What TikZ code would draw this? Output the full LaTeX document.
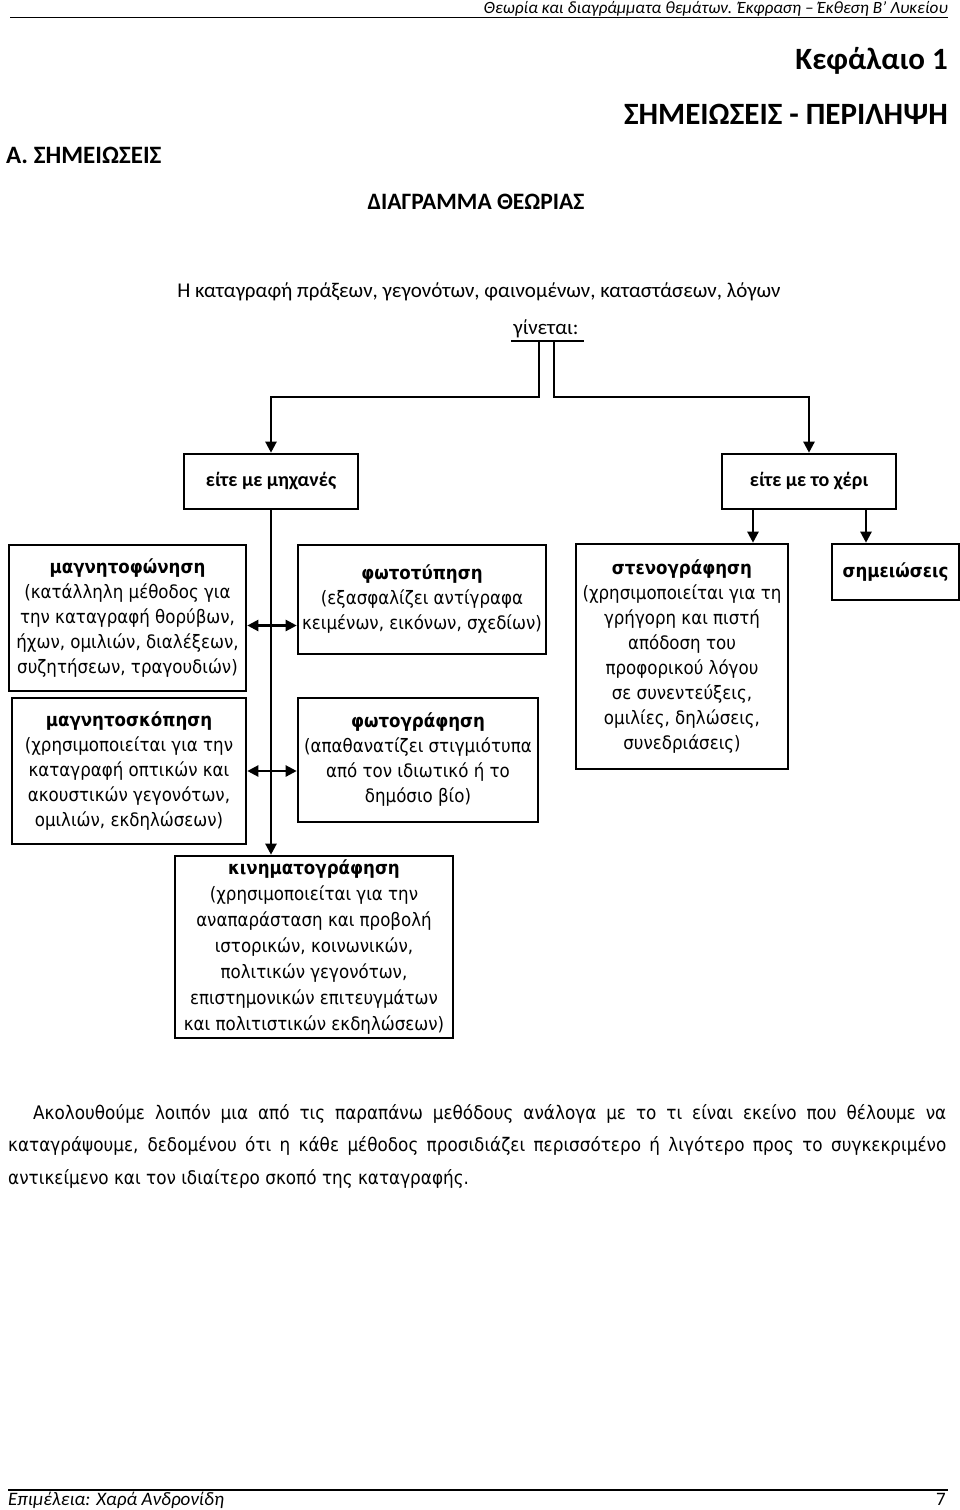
\documentclass[tikz,border=0pt]{standalone}
\usepackage{fontspec}
\setmainfont{Carlito}
\newfontfamily\boxf[FakeStretch=0.9]{DejaVu Sans}
\usetikzlibrary{arrows.meta}
\tikzset{
  bx/.style={draw, line width=2.6pt, align=center, inner sep=0pt, anchor=center,
    font=\boxf\fontsize{18.5}{25}\selectfont},
  topbx/.style={draw, line width=2.6pt, align=center, inner sep=0pt, anchor=center,
    minimum width=174pt, minimum height=55pt, font=\fontsize{20}{22}\selectfont\bfseries},
  ln/.style={line width=2.3pt},
  arr/.style={line width=2.3pt, -{Triangle[length=11pt,width=11pt]}},
  darr/.style={line width=2.3pt, {Triangle[length=11pt,width=11pt]}-{Triangle[length=11pt,width=11pt]}},
  ttl/.style={inner sep=0pt},
}
\begin{document}
\begin{tikzpicture}[x=1pt,y=-1pt]
\useasboundingbox[fill=white] (0,0) rectangle (960,1510);
% header
\node[ttl, anchor=base east, font=\fontsize{17.2}{20}\selectfont\itshape] (hdr) at (948,13) {Θεωρία και διαγράμματα θεμάτων. Έκφραση – Έκθεση Β’ Λυκείου};
\coordinate (hl1) at (10,17.5);
\coordinate (hl2) at (948,17.5);
\draw[line width=1.5pt] (hl1) -- (hl2);
\node[ttl, anchor=base east, font=\fontsize{31}{34}\selectfont\bfseries] (kef) at (948,69) {Κεφάλαιο 1};
\node[ttl, anchor=base east, font=\fontsize{31}{34}\selectfont\bfseries] (sum) at (948,124) {ΣΗΜΕΙΩΣΕΙΣ - ΠΕΡΙΛΗΨΗ};
\node[ttl, anchor=base west, font=\fontsize{25}{28}\selectfont\bfseries] (asec) at (6,163) {Α. ΣΗΜΕΙΩΣΕΙΣ};
\node[ttl, anchor=base, font=\fontsize{23.5}{26}\selectfont\bfseries] (diag) at (476,209) {ΔΙΑΓΡΑΜΜΑ ΘΕΩΡΙΑΣ};
\node[ttl, anchor=base, font=\fontsize{21}{24}\selectfont] (intro) at (479,297) {Η καταγραφή πράξεων, γεγονότων, φαινομένων, καταστάσεων, λόγων};
\node[ttl, anchor=base, font=\fontsize{21}{24}\selectfont] (gin) at (546,334) {γίνεται:};
% bar
\coordinate (barL) at (511,341);
\coordinate (barR) at (584,341);
\coordinate (legL) at (539,341);
\coordinate (legR) at (554,341);
\coordinate (jL) at (539,397);
\coordinate (jR) at (554,397);
\draw[ln] (barL) -- (barR);
% top boxes
\node[topbx] (mach) at (271,481.5) {είτε με μηχανές};
\node[topbx] (hand) at (809,481.5) {είτε με το χέρι};
\draw[arr] (legL) -- (jL) -| (mach.north);
\draw[arr] (legR) -- (jR) -| (hand.north);
% method boxes
\node[bx, minimum width=237pt, minimum height=146pt] (mag1) at (127.5,618) {\textbf{μαγνητοφώνηση}\\(κατάλληλη μέθοδος για\\την καταγραφή θορύβων,\\ήχων, ομιλιών, διαλέξεων,\\συζητήσεων, τραγουδιών)};
\node[bx, minimum width=234pt, minimum height=146pt] (mag2) at (129,771) {\textbf{μαγνητοσκόπηση}\\(χρησιμοποιείται για την\\καταγραφή οπτικών και\\ακουστικών γεγονότων,\\ομιλιών, εκδηλώσεων)};
\node[bx, minimum width=248pt, minimum height=109pt] (fot1) at (422,599.5) {\textbf{φωτοτύπηση}\\(εξασφαλίζει αντίγραφα\\κειμένων, εικόνων, σχεδίων)};
\node[bx, minimum width=240pt, minimum height=124pt] (fot2) at (418,760) {\textbf{φωτογράφηση}\\(απαθανατίζει στιγμιότυπα\\από τον ιδιωτικό ή το\\δημόσιο βίο)};
\node[bx, minimum width=212pt, minimum height=225pt] (steno) at (682,656.5) {\textbf{στενογράφηση}\\(χρησιμοποιείται για τη\\γρήγορη και πιστή\\απόδοση του\\προφορικού λόγου\\σε συνεντεύξεις,\\ομιλίες, δηλώσεις,\\συνεδριάσεις)};
\node[bx, minimum width=127pt, minimum height=56pt] (notes) at (895.5,572) {\textbf{σημειώσεις}};
\node[bx, minimum width=278pt, minimum height=182pt, font=\boxf\fontsize{18.5}{26}\selectfont] (kin) at (314,947) {\textbf{κινηματογράφηση}\\(χρησιμοποιείται για την\\αναπαράσταση και προβολή\\ιστορικών, κοινωνικών,\\πολιτικών γεγονότων,\\επιστημονικών επιτευγμάτων\\και πολιτιστικών εκδηλώσεων)};
% connectors
\draw[arr] (mach.south) -- (mach.south |- kin.north);
\coordinate (hs1) at (753,509);
\coordinate (hs2) at (866,509);
\draw[arr] (hs1) -- (hs1 |- steno.north);
\draw[arr] (hs2) -- (hs2 |- notes.north);
\draw[darr] ([yshift=-7.5pt]mag1.east) -- ([yshift=-7.5pt]mag1.east -| fot1.west);
\draw[darr] (mag2.east) -- (mag2.east -| fot2.west);
% paragraph
\node[anchor=north west, inner sep=0pt, align=left, font=\boxf\fontsize{18.7}{32.5}\selectfont] (para) at (8,1104) {\hbox to 938pt{\hskip25pt Ακολουθούμε λοιπόν μια από τις παραπάνω μεθόδους ανάλογα με το τι είναι εκείνο που θέλουμε να}\\\hbox to 938pt{καταγράψουμε, δεδομένου ότι η κάθε μέθοδος προσιδιάζει περισσότερο ή λιγότερο προς το συγκεκριμένο}\\αντικείμενο και τον ιδιαίτερο σκοπό της καταγραφής.};
% footer
\coordinate (fl1) at (8,1490);
\coordinate (fl2) at (948,1490);
\draw[line width=2pt] (fl1) -- (fl2);
\node[ttl, anchor=base west, font=\fontsize{19}{21}\selectfont\itshape] (ftl) at (8,1505) {Επιμέλεια: Χαρά Ανδρονίδη};
\node[ttl, anchor=base east, font=\fontsize{19}{21}\selectfont] (ftr) at (946,1505) {7};
\end{tikzpicture}
\end{document}
